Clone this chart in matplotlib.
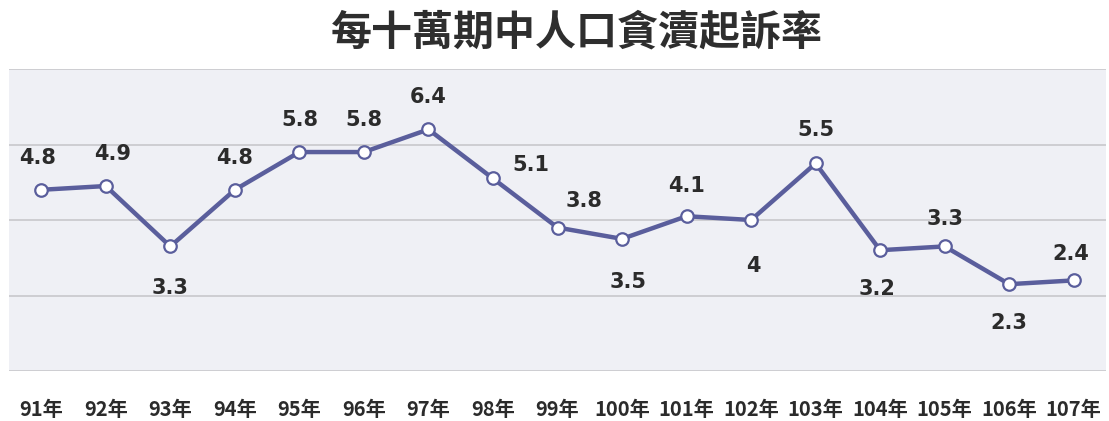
import numpy as np
import matplotlib
matplotlib.use("Agg")
import matplotlib.pyplot as plt

plt.rcParams['font.family'] = ['Noto Sans CJK TC', 'DejaVu Sans']

# data
years = ['91年', '92年', '93年', '94年', '95年', '96年', '97年', '98年', '99年',
         '100年', '101年', '102年', '103年', '104年', '105年', '106年', '107年']
rates = [4.8, 4.9, 3.3, 4.8, 5.8, 5.8, 6.4, 5.1, 3.8, 3.5, 4.1, 4.0, 5.5, 3.2, 3.3, 2.3, 2.4]
labels = ['4.8', '4.9', '3.3', '4.8', '5.8', '5.8', '6.4', '5.1', '3.8',
          '3.5', '4.1', '4', '5.5', '3.2', '3.3', '2.3', '2.4']
# label offsets (points) relative to the marker
offsets = [(-3, 23), (5, 23), (0, -30), (0, 23), (0, 23), (0, 23), (0, 23), (27, 10), (19, 19),
           (4, -31), (0, 22), (2, -33), (0, 24), (-2, -28), (0, 20), (0, -28), (-2, 19)]

fig = plt.figure(figsize=(11.09, 4.21), dpi=100)
fig.patch.set_facecolor('white')
ax = fig.add_axes([9 / 1109, 50 / 421, 1097 / 1109, 302 / 421])
ax.set_facecolor('#eff0f5')

x = np.arange(len(years))
ax.plot(x, rates, color='#5a5e9c', lw=3.2, marker='o', markersize=9,
        markerfacecolor='white', markeredgecolor='#5a5e9c', markeredgewidth=1.6, zorder=3)

for xi, yi, lab, off in zip(x, rates, labels, offsets):
    ax.annotate(lab, (xi, yi), xytext=off, textcoords='offset points',
                ha='center', va='center', fontsize=15, fontweight='bold',
                color='#2b2b2b', family=['DejaVu Sans'])

ax.set_xlim(-0.5, len(years) - 0.5)
ax.set_ylim(0, 8)
ax.set_yticks([0, 2, 4, 6, 8])
ax.yaxis.grid(True, color='#c8c8cc', lw=1.2)
ax.set_axisbelow(True)
ax.tick_params(axis='y', left=False, labelleft=False)
ax.tick_params(axis='x', length=0, pad=20)
ax.set_xticks(x)
ax.set_xticklabels(years, fontsize=14.5, fontweight='bold', color='#2b2b2b')
for s in ax.spines.values():
    s.set_visible(False)

fig.text(577 / 1109, 1 - 33 / 421, '每十萬期中人口貪瀆起訴率', ha='center', va='center',
         fontsize=29.5, fontweight='bold', color='#2e2e2e')

fig.savefig('out.png', dpi=100)
